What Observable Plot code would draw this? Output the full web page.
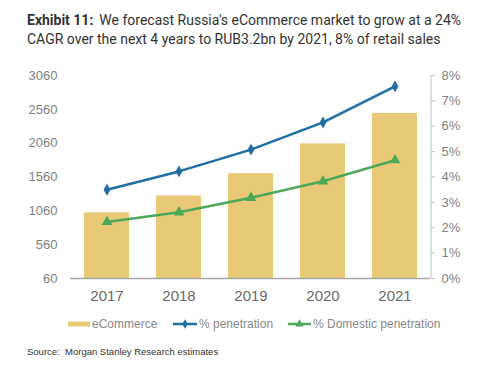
<!DOCTYPE html>
<html>
<head>
<meta charset="utf-8">
<script src="https://cdn.jsdelivr.net/npm/d3@7"></script>
<script src="https://cdn.jsdelivr.net/npm/@observablehq/plot@0.6"></script>
<style>
  html, body { margin: 0; padding: 0; background: #fff; }
  #wrap { position: relative; width: 500px; height: 374px; overflow: hidden; font-family: "Liberation Sans", Arial, sans-serif; }
  #title { position: absolute; left: 27px; top: 11px; width: 470px; font-family: Roboto, "Liberation Sans", sans-serif; font-size: 14px; line-height: 19px; color: #333; white-space: nowrap; }
  #title b { font-weight: 700; margin-right: 6px; }
  #chart { position: absolute; left: 0; top: 55px; }
  #legend { position: absolute; left: 0; top: 315px; width: 500px; height: 18px; }
  #source { position: absolute; left: 27px; top: 346px; font-size: 9.5px; color: #333; }
</style>
</head>
<body>
<div id="wrap">
  <div id="title"><b>Exhibit 11:</b><span>We forecast Russia's eCommerce market to grow at a 24%</span><br><span>CAGR over the next 4 years to RUB3.2bn by 2021, 8% of retail sales</span></div>
  <div id="chart"></div>
  <div id="legend"></div>
  <div id="source">Source:&nbsp; Morgan Stanley Research estimates</div>
</div>
<script>
const years = ["2017", "2018", "2019", "2020", "2021"];
const ecommerce = [1030, 1280, 1610, 2050, 2500];
const penetration = [3.5, 4.22, 5.08, 6.15, 7.57];
const domestic = [2.23, 2.61, 3.18, 3.83, 4.66];
const leftTicks = [60, 560, 1060, 1560, 2060, 2560, 3060];
const rightTicks = [0, 1, 2, 3, 4, 5, 6, 7, 8];
const seriesNames = ["eCommerce", "% penetration", "% Domestic penetration"];

const colBar = "#E8C978", colBlue = "#1E6FA3", colGreen = "#4DA85A";
const yMin = 60, yMax = 3060, pMax = 8;
const toLeft = p => yMin + p / pMax * (yMax - yMin);

const bars = years.map((y, i) => ({year: y, value: ecommerce[i]}));
const pen = years.map((y, i) => ({year: y, v: toLeft(penetration[i])}));
const dom = years.map((y, i) => ({year: y, v: toLeft(domestic[i])}));

const plot = Plot.plot({
  width: 500,
  height: 258,
  marginLeft: 70,
  marginRight: 70,
  marginTop: 20,
  marginBottom: 35,
  style: {fontFamily: "'Liberation Sans', Arial, sans-serif", background: "transparent"},
  x: {domain: years, paddingInner: 0.375, paddingOuter: 0.1875},
  y: {domain: [yMin, yMax]},
  marks: [
    Plot.barY(bars, {x: "year", y1: yMin, y2: "value", fill: colBar}),
    Plot.ruleY([yMin], {stroke: "#A6A6A6", strokeWidth: 1.5}),
    Plot.ruleX(["2021"], {dx: 36, y1: yMin, y2: yMax, stroke: "#BFBFBF"}),
    Plot.line(pen, {x: "year", y: "v", stroke: colBlue, strokeWidth: 2.5}),
    Plot.dot(pen, {x: "year", y: "v", symbol: "diamond", r: 3.6, fill: colBlue}),
    Plot.line(dom, {x: "year", y: "v", stroke: colGreen, strokeWidth: 2.5}),
    Plot.dot(dom, {x: "year", y: "v", symbol: "triangle", r: 4, fill: colGreen}),
    Plot.axisY(leftTicks, {anchor: "left", tickSize: 0, tickPadding: 13, fontSize: 13, color: "#7f7f7f", label: null, tickFormat: d => String(d)}),
    Plot.axisY(rightTicks.map(toLeft), {anchor: "right", tickSize: 4, tickPadding: 7, fontSize: 13, color: "#7f7f7f", label: null,
      tickFormat: d => Math.round((d - yMin) / (yMax - yMin) * pMax) + "%", stroke: "#BFBFBF"}),
    Plot.axisX({tickSize: 0, tickPadding: 12, fontSize: 15, color: "#6a6a6a", label: null})
  ]
});
document.getElementById("chart").appendChild(plot);

// legend
const lg = d3.select("#legend").append("svg").attr("width", 500).attr("height", 18)
  .style("font-family", "'Liberation Sans', Arial, sans-serif").style("font-size", "12px");
const cy = 9;
lg.append("rect").attr("x", 68).attr("y", cy - 2.5).attr("width", 22).attr("height", 5).attr("fill", colBar);
lg.append("text").attr("x", 92).attr("y", cy + 4).attr("fill", "#888").text(seriesNames[0]);
lg.append("line").attr("x1", 173).attr("x2", 197).attr("y1", cy).attr("y2", cy).attr("stroke", colBlue).attr("stroke-width", 2.5);
lg.append("path").attr("d", d3.symbol(d3.symbolDiamond, 26)()).attr("transform", `translate(185,${cy})`).attr("fill", colBlue);
lg.append("text").attr("x", 199).attr("y", cy + 4).attr("fill", "#888").text(seriesNames[1]);
lg.append("line").attr("x1", 288).attr("x2", 311).attr("y1", cy).attr("y2", cy).attr("stroke", colGreen).attr("stroke-width", 2.5);
lg.append("path").attr("d", d3.symbol(d3.symbolTriangle, 30)()).attr("transform", `translate(299.5,${cy})`).attr("fill", colGreen);
lg.append("text").attr("x", 313).attr("y", cy + 4).attr("fill", "#888").text(seriesNames[2]);
</script>
</body>
</html>
